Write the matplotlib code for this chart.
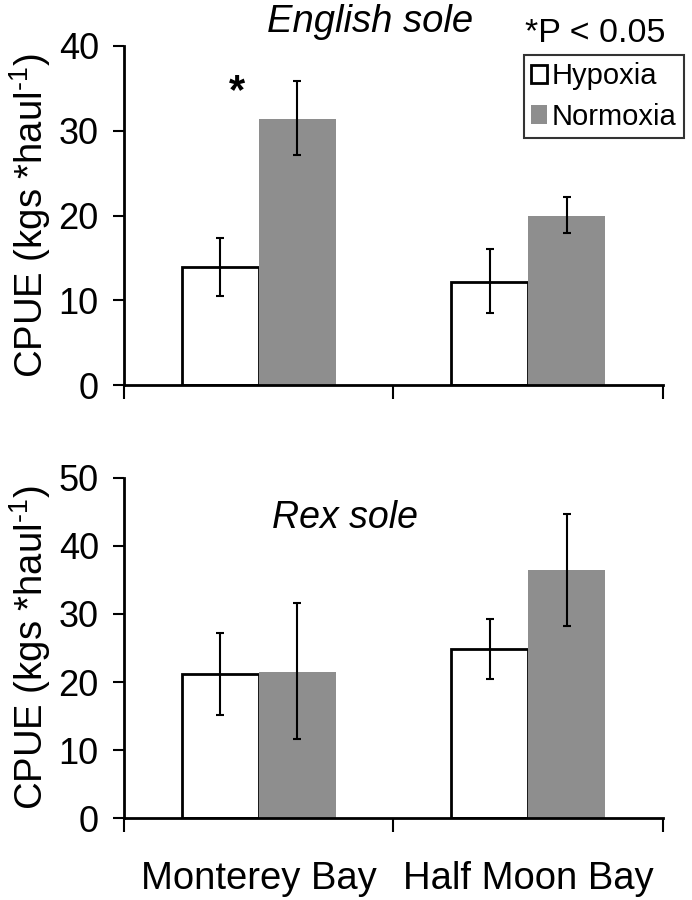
import matplotlib
matplotlib.use("Agg")
import matplotlib.pyplot as plt
from matplotlib.patches import Patch
import numpy as np

plt.rcParams['font.family'] = ['Liberation Sans', 'DejaVu Sans']
plt.rcParams['mathtext.fontset'] = 'custom'
plt.rcParams['mathtext.rm'] = 'Liberation Sans'

sites = ["Monterey Bay", "Half Moon Bay"]
groups = ["Hypoxia", "Normoxia"]

english_hyp = [13.9, 12.2]
english_hyp_lo = [10.5, 8.5]
english_hyp_hi = [17.3, 16.0]
english_norm = [31.4, 20.0]
english_norm_lo = [27.1, 17.9]
english_norm_hi = [35.9, 22.2]

rex_hyp = [21.2, 24.8]
rex_hyp_lo = [15.1, 20.4]
rex_hyp_hi = [27.2, 29.2]
rex_norm = [21.5, 36.4]
rex_norm_lo = [11.6, 28.3]
rex_norm_hi = [31.6, 44.7]

GRAY = "#8e8e8e"
FS_TICK = 26
FS_LAB = 27.5

fig = plt.figure(figsize=(6.92, 9.0), dpi=100)
ax1 = fig.add_axes([0.179, 0.5722, 0.779, 0.3767])
ax2 = fig.add_axes([0.179, 0.0911, 0.779, 0.3778])

w = 0.286
x = np.arange(len(sites))

def panel(ax, hyp, hlo, hhi, norm, nlo, nhi, ymax, step):
    ax.bar(x - w/2, hyp, w, color="white", edgecolor="black", linewidth=2.0, zorder=2)
    ax.bar(x + w/2, norm, w, color=GRAY, edgecolor="none", zorder=2)
    hyp = np.array(hyp); norm = np.array(norm)
    ax.errorbar(x - w/2, hyp, yerr=[hyp - np.array(hlo), np.array(hhi) - hyp],
                fmt="none", ecolor="black", elinewidth=1.5, capsize=3, capthick=1.5, zorder=3)
    ax.errorbar(x + w/2, norm, yerr=[norm - np.array(nlo), np.array(nhi) - norm],
                fmt="none", ecolor="black", elinewidth=1.5, capsize=3, capthick=1.5, zorder=3)
    ax.set_xlim(-0.5, 1.5)
    ax.set_ylim(0, ymax)
    ax.set_yticks(np.arange(0, ymax + 1, step))
    ax.tick_params(axis="y", labelsize=FS_TICK, length=8, width=1.5, direction="out", pad=10)
    ax.set_xticks([-0.5, 0.5, 1.5], minor=True)
    ax.tick_params(axis="x", which="minor", length=10, width=1.5, direction="out")
    ax.set_xticks([0, 1])
    ax.tick_params(axis="x", which="major", length=0)
    for s in ["top", "right"]:
        ax.spines[s].set_visible(False)
    for s in ["left", "bottom"]:
        ax.spines[s].set_linewidth(2.0)
    ax.set_ylabel("CPUE (kgs *haul$^{\\mathregular{\u2010}\\mathregular{1}}$)",
                  fontsize=FS_LAB, labelpad=4)

panel(ax1, english_hyp, english_hyp_lo, english_hyp_hi,
      english_norm, english_norm_lo, english_norm_hi, 40, 10)
panel(ax2, rex_hyp, rex_hyp_lo, rex_hyp_hi,
      rex_norm, rex_norm_lo, rex_norm_hi, 50, 10)

ax1.set_xticklabels([])
ax2.set_xticklabels(sites, fontsize=FS_LAB)
ax2.tick_params(axis="x", which="major", pad=31)

fig.text(370/692, 1 - 22/900, "English sole", fontsize=FS_LAB, style="italic",
         ha="center", va="center")
fig.text(595/692, 1 - 33/900, "*P < 0.05", fontsize=24.5, ha="center", va="center")
ax1.text(-0.08, 34.6, "*", fontsize=30, fontweight="bold", ha="center", va="center")
ax2.text(0.32, 44.1, "Rex sole", fontsize=27, style="italic", ha="center", va="center")

handles = [Patch(facecolor="white", edgecolor="black", linewidth=2.0, label="Hypoxia"),
           Patch(facecolor=GRAY, edgecolor="none", label="Normoxia")]
leg = fig.legend(handles=handles, loc="upper left", bbox_to_anchor=(524/692, 1 - 55/900),
                 fontsize=21, frameon=True, fancybox=False, handlelength=0.55,
                 handleheight=0.6, handletextpad=0.15, borderpad=0.25, labelspacing=0.42,
                 borderaxespad=0)
leg.get_frame().set_edgecolor("black")
leg.get_frame().set_linewidth(1.5)

fig.savefig("out.png", dpi=100)
